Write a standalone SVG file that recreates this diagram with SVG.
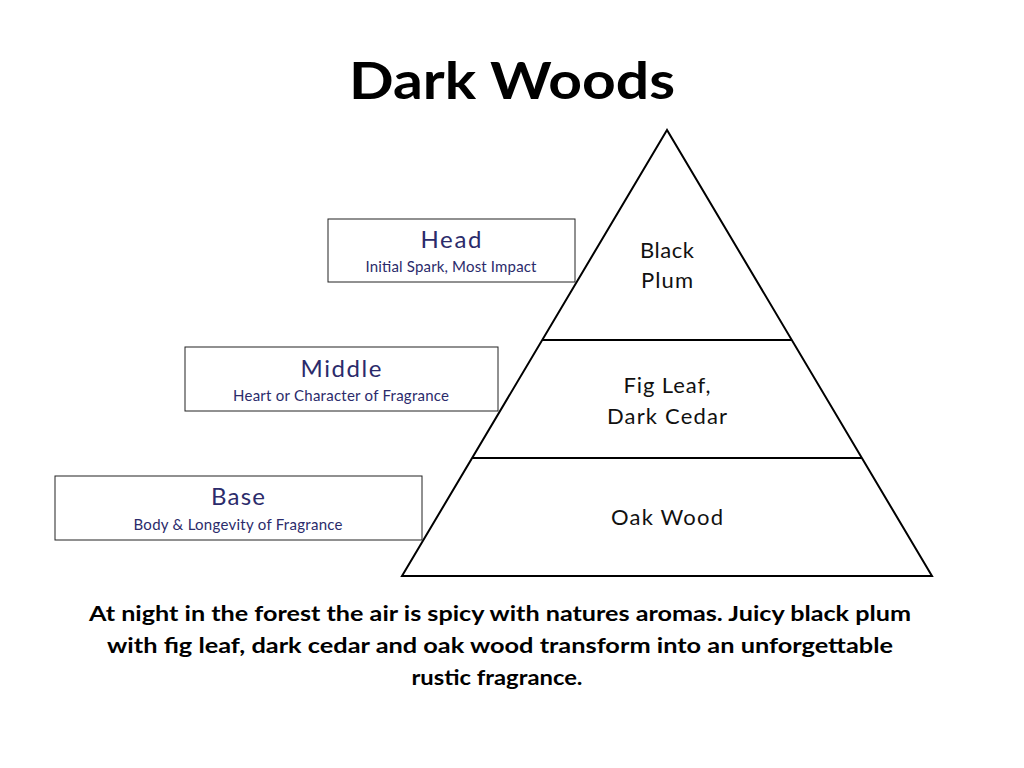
<svg xmlns="http://www.w3.org/2000/svg" width="1024" height="768" viewBox="0 0 1024 768">
<style>
.t{font-family:Lato,"Open Sans",sans-serif}
.box{fill:#fff;stroke:#222;stroke-width:1}
.h{font-size:24px;fill:#2b2b6b;text-anchor:middle}
.s{font-size:15px;fill:#2b2b6b;text-anchor:middle}
.p{font-size:22px;fill:#111;text-anchor:middle}
.d{font-size:21px;font-weight:bold;fill:#000;text-anchor:middle}
</style>
<rect width="1024" height="768" fill="#fff"/>
<text class="t" x="512" y="99" font-size="52" font-weight="bold" text-anchor="middle" textLength="326" lengthAdjust="spacingAndGlyphs">Dark Woods</text>
<g id="pyramid" fill="none" stroke="#000" stroke-width="2">
<polygon points="667,130 402,576 932,576"/>
<line x1="542" y1="340" x2="792" y2="340"/>
<line x1="472" y1="458" x2="862" y2="458"/>
</g>
<g id="tiers" class="t">
<text class="p" x="667" y="258" textLength="54">Black</text>
<text class="p" x="667" y="288" textLength="52">Plum</text>
<text class="p" x="667" y="393" textLength="87">Fig Leaf,</text>
<text class="p" x="667" y="424" textLength="120">Dark Cedar</text>
<text class="p" x="667" y="525" textLength="112">Oak Wood</text>
</g>
<g id="head" class="t"><rect class="box" x="328" y="219" width="247" height="63"/>
<text class="h" x="451" y="248" textLength="61">Head</text><text class="s" x="451" y="272" textLength="171">Initial Spark, Most Impact</text></g>
<g id="middle" class="t"><rect class="box" x="185" y="347" width="313" height="64"/>
<text class="h" x="341" y="377" textLength="81">Middle</text><text class="s" x="341" y="401" textLength="216">Heart or Character of Fragrance</text></g>
<g id="base" class="t"><rect class="box" x="55" y="476" width="367" height="64"/>
<text class="h" x="238" y="505" textLength="54">Base</text><text class="s" x="238" y="530" textLength="209">Body &amp; Longevity of Fragrance</text></g>
<g id="desc" class="t">
<text class="d" x="500" y="621" textLength="822" lengthAdjust="spacingAndGlyphs">At night in the forest the air is spicy with natures aromas. Juicy black plum</text>
<text class="d" x="500" y="653" textLength="786" lengthAdjust="spacingAndGlyphs">with fig leaf, dark cedar and oak wood transform into an unforgettable</text>
<text class="d" x="497" y="685" textLength="171" lengthAdjust="spacingAndGlyphs">rustic fragrance.</text>
</g>
</svg>
